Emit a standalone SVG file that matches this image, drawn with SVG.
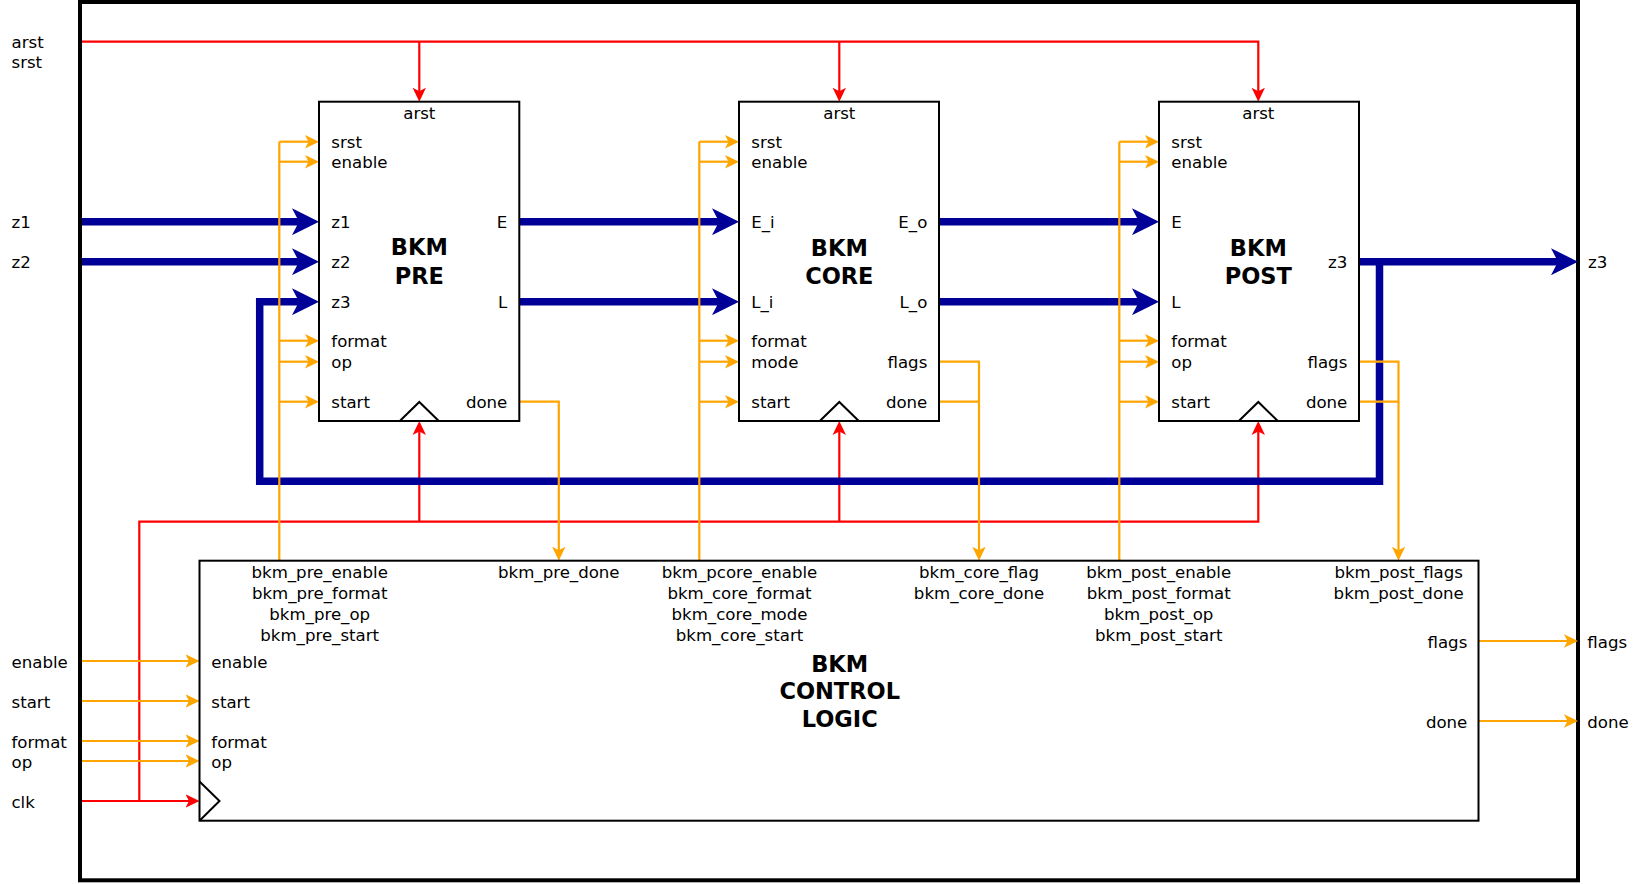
<svg xmlns="http://www.w3.org/2000/svg" width="1640" height="884" viewBox="0 0 1640 884">
<defs>
<style>
text{font-family:"DejaVu Sans","Noto Sans",sans-serif;font-size:16.6px;fill:#000}
.t{font-weight:bold;font-size:22.5px;text-anchor:middle}
.m{text-anchor:middle}
.e{text-anchor:end}
.box{fill:#fff;stroke:#000;stroke-width:2}
.clk{fill:none;stroke:#000;stroke-width:2}
.bus{fill:none;stroke:#000099;stroke-width:7.5;stroke-linejoin:miter}
.sig{fill:none;stroke:#FFA500;stroke-width:2.2}
.rst{fill:none;stroke:#FF0000;stroke-width:2.2}
</style>
<marker id="ab" markerUnits="userSpaceOnUse" viewBox="0 0 27 27" refX="7" refY="13.5" markerWidth="27" markerHeight="27" orient="auto">
<path d="M0,0 L27,13.5 L0,27 L7,13.5 Z" fill="#000099"/>
</marker>
<marker id="ao" markerUnits="userSpaceOnUse" viewBox="0 0 14 14" refX="6" refY="7" markerWidth="14" markerHeight="14" orient="auto">
<path d="M0,0.3 L14,7 L0,13.7 L3.5,7 Z" fill="#FFA500"/>
</marker>
<marker id="ar" markerUnits="userSpaceOnUse" viewBox="0 0 14 14" refX="6" refY="7" markerWidth="14" markerHeight="14" orient="auto">
<path d="M0,0.3 L14,7 L0,13.7 L3.5,7 Z" fill="#FF0000"/>
</marker>
</defs>

<rect id="frame" x="80" y="2" width="1498" height="878.3" fill="#fff" stroke="#000" stroke-width="4"/>

<g id="ports">
<text x="11.5" y="48.3">arst</text>
<text x="11.5" y="67.7">srst</text>
<text x="11.5" y="228.2">z1</text>
<text x="11.5" y="268.2">z2</text>
<text x="11.5" y="667.5">enable</text>
<text x="11.5" y="707.5">start</text>
<text x="11.5" y="747.5">format</text>
<text x="11.5" y="767.5">op</text>
<text x="11.5" y="807.5">clk</text>
<text x="1588" y="268.2">z3</text>
<text x="1587.3" y="647.5">flags</text>
<text x="1587.3" y="727.5">done</text>
</g>

<g id="connectors">
<!-- reset -->
<path class="rst" d="M82,41.7 H1258.3 V93.7" marker-end="url(#ar)"/>
<path class="rst" d="M419.3,41.7 V93.7" marker-end="url(#ar)"/>
<path class="rst" d="M839.3,41.7 V93.7" marker-end="url(#ar)"/>
<!-- clock -->
<path class="rst" d="M82,801 H191.5" marker-end="url(#ar)"/>
<path class="rst" d="M139.3,801 V521.7 H1258.3 V429" marker-end="url(#ar)"/>
<path class="rst" d="M419.3,521.7 V429" marker-end="url(#ar)"/>
<path class="rst" d="M839.3,521.7 V429" marker-end="url(#ar)"/>
<!-- buses -->
<path class="bus" d="M82,221.7 H299" marker-end="url(#ab)"/>
<path class="bus" d="M82,261.7 H299" marker-end="url(#ab)"/>
<path class="bus" d="M1379.5,261.7 V481.3 H259.7 V301.7 H299" marker-end="url(#ab)"/>
<path class="bus" d="M519.3,221.7 H719" marker-end="url(#ab)"/>
<path class="bus" d="M519.3,301.7 H719" marker-end="url(#ab)"/>
<path class="bus" d="M939,221.7 H1139" marker-end="url(#ab)"/>
<path class="bus" d="M939,301.7 H1139" marker-end="url(#ab)"/>
<path class="bus" d="M1359,261.7 H1558" marker-end="url(#ab)"/>
<!-- control to PRE -->
<path class="sig" d="M279.3,560.7 V141.7"/>
<path class="sig" d="M279.3,141.7 H311" marker-end="url(#ao)"/>
<path class="sig" d="M279.3,161.7 H311" marker-end="url(#ao)"/>
<path class="sig" d="M279.3,340.7 H311" marker-end="url(#ao)"/>
<path class="sig" d="M279.3,361.7 H311" marker-end="url(#ao)"/>
<path class="sig" d="M279.3,401.7 H311" marker-end="url(#ao)"/>
<!-- control to CORE -->
<path class="sig" d="M699.3,560.7 V141.7"/>
<path class="sig" d="M699.3,141.7 H731" marker-end="url(#ao)"/>
<path class="sig" d="M699.3,161.7 H731" marker-end="url(#ao)"/>
<path class="sig" d="M699.3,340.7 H731" marker-end="url(#ao)"/>
<path class="sig" d="M699.3,361.7 H731" marker-end="url(#ao)"/>
<path class="sig" d="M699.3,401.7 H731" marker-end="url(#ao)"/>
<!-- control to POST -->
<path class="sig" d="M1119.3,560.7 V141.7"/>
<path class="sig" d="M1119.3,141.7 H1151" marker-end="url(#ao)"/>
<path class="sig" d="M1119.3,161.7 H1151" marker-end="url(#ao)"/>
<path class="sig" d="M1119.3,340.7 H1151" marker-end="url(#ao)"/>
<path class="sig" d="M1119.3,361.7 H1151" marker-end="url(#ao)"/>
<path class="sig" d="M1119.3,401.7 H1151" marker-end="url(#ao)"/>
<!-- status back to control -->
<path class="sig" d="M519.3,401.7 H558.8 V552.7" marker-end="url(#ao)"/>
<path class="sig" d="M939,361.7 H979 V552.7" marker-end="url(#ao)"/>
<path class="sig" d="M939,401.7 H979"/>
<path class="sig" d="M1359,361.7 H1398.5 V552.7" marker-end="url(#ao)"/>
<path class="sig" d="M1359,401.7 H1398.5"/>
<!-- top inputs to control -->
<path class="sig" d="M82,661 H191.5" marker-end="url(#ao)"/>
<path class="sig" d="M82,701 H191.5" marker-end="url(#ao)"/>
<path class="sig" d="M82,741 H191.5" marker-end="url(#ao)"/>
<path class="sig" d="M82,761 H191.5" marker-end="url(#ao)"/>
<!-- outputs -->
<path class="sig" d="M1478.5,641 H1570" marker-end="url(#ao)"/>
<path class="sig" d="M1478.5,721 H1570" marker-end="url(#ao)"/>
</g>

<g id="bkm_pre">
<rect class="box" x="319" y="101.7" width="200.3" height="319.3"/>
<polyline class="clk" points="399.8,421 419.3,402 438.8,421"/>
<text class="m" x="419.3" y="119">arst</text>
<text x="331.3" y="148.2">srst</text>
<text x="331.3" y="168.2">enable</text>
<text x="331.3" y="228.2">z1</text>
<text x="331.3" y="268.2">z2</text>
<text x="331.3" y="308.2">z3</text>
<text x="331.3" y="347.2">format</text>
<text x="331.3" y="368.2">op</text>
<text x="331.3" y="408.2">start</text>
<text class="e" x="507.3" y="228.2">E</text>
<text class="e" x="507.3" y="308.2">L</text>
<text class="e" x="507.3" y="408.2">done</text>
<text class="t" x="419.3" y="255">BKM</text>
<text class="t" x="419.3" y="284">PRE</text>
</g>

<g id="bkm_core">
<rect class="box" x="739" y="101.7" width="200" height="319.3"/>
<polyline class="clk" points="819.8,421 839.3,402 858.8,421"/>
<text class="m" x="839.3" y="119">arst</text>
<text x="751.3" y="148.2">srst</text>
<text x="751.3" y="168.2">enable</text>
<text x="751.3" y="228.2">E_i</text>
<text x="751.3" y="308.2">L_i</text>
<text x="751.3" y="347.2">format</text>
<text x="751.3" y="368.2">mode</text>
<text x="751.3" y="408.2">start</text>
<text class="e" x="927.3" y="228.2">E_o</text>
<text class="e" x="927.3" y="308.2">L_o</text>
<text class="e" x="927.3" y="368.2">flags</text>
<text class="e" x="927.3" y="408.2">done</text>
<text class="t" x="839.3" y="255.5">BKM</text>
<text class="t" x="839.3" y="284">CORE</text>
</g>

<g id="bkm_post">
<rect class="box" x="1159" y="101.7" width="200" height="319.3"/>
<polyline class="clk" points="1238.8,421 1258.3,402 1277.8,421"/>
<text class="m" x="1258.3" y="119">arst</text>
<text x="1171.3" y="148.2">srst</text>
<text x="1171.3" y="168.2">enable</text>
<text x="1171.3" y="228.2">E</text>
<text x="1171.3" y="308.2">L</text>
<text x="1171.3" y="347.2">format</text>
<text x="1171.3" y="368.2">op</text>
<text x="1171.3" y="408.2">start</text>
<text class="e" x="1347.3" y="268.2">z3</text>
<text class="e" x="1347.3" y="368.2">flags</text>
<text class="e" x="1347.3" y="408.2">done</text>
<text class="t" x="1258.3" y="255.5">BKM</text>
<text class="t" x="1258.3" y="284">POST</text>
</g>

<g id="bkm_control">
<rect class="box" x="199.5" y="560.7" width="1279" height="260"/>
<polyline class="clk" points="199.5,781.5 219.5,801 199.5,820.7"/>
<text class="m" x="319.7" y="578.2">bkm_pre_enable</text>
<text class="m" x="319.7" y="599.2">bkm_pre_format</text>
<text class="m" x="319.7" y="620.2">bkm_pre_op</text>
<text class="m" x="319.7" y="641.2">bkm_pre_start</text>
<text class="m" x="558.8" y="578.2">bkm_pre_done</text>
<text class="m" x="739.5" y="578.2">bkm_pcore_enable</text>
<text class="m" x="739.5" y="599.2">bkm_core_format</text>
<text class="m" x="739.5" y="620.2">bkm_core_mode</text>
<text class="m" x="739.5" y="641.2">bkm_core_start</text>
<text class="m" x="979" y="578.2">bkm_core_flag</text>
<text class="m" x="979" y="599.2">bkm_core_done</text>
<text class="m" x="1158.7" y="578.2">bkm_post_enable</text>
<text class="m" x="1158.7" y="599.2">bkm_post_format</text>
<text class="m" x="1158.7" y="620.2">bkm_post_op</text>
<text class="m" x="1158.7" y="641.2">bkm_post_start</text>
<text class="m" x="1398.7" y="578.2">bkm_post_flags</text>
<text class="m" x="1398.7" y="599.2">bkm_post_done</text>
<text x="211.3" y="667.5">enable</text>
<text x="211.3" y="707.5">start</text>
<text x="211.3" y="747.5">format</text>
<text x="211.3" y="767.5">op</text>
<text class="e" x="1467.3" y="647.5">flags</text>
<text class="e" x="1467.3" y="727.5">done</text>
<text class="t" x="839.7" y="671.7">BKM</text>
<text class="t" x="839.7" y="699.3">CONTROL</text>
<text class="t" x="839.7" y="727.3">LOGIC</text>
</g>
</svg>
